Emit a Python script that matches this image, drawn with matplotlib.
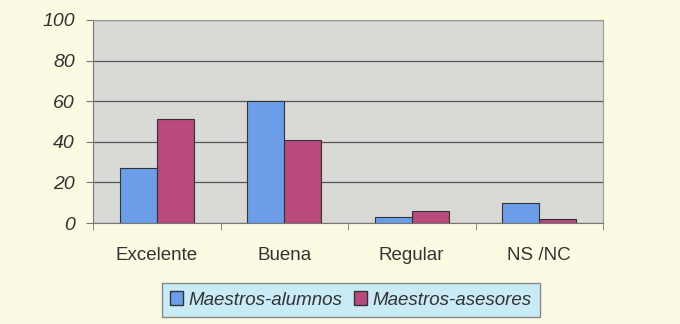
import numpy as np
import matplotlib.pyplot as plt
from matplotlib.patches import Patch

# Datos
categorias = ['Excelente', 'Buena', 'Regular', 'NS /NC']
alumnos = [27, 60, 3, 10]
asesores = [51, 41, 6, 2]
series = ['Maestros-alumnos', 'Maestros-asesores']
y_ticks = [0, 20, 40, 60, 80, 100]

azul = '#6b9de8'
rojo = '#b84a7c'
fondo = '#fbfbe3'
gris = '#d9d9d6'

plt.rcParams['font.family'] = ['Liberation Sans', 'DejaVu Sans']

fig = plt.figure(figsize=(6.8, 3.24), dpi=100, facecolor=fondo)
ax = fig.add_axes([93 / 680, 1 - 223 / 324, 510 / 680, 203 / 324])
ax.set_facecolor(gris)

x = np.arange(len(categorias))
w = 0.29
ax.bar(x - w / 2, alumnos, w, color=azul, edgecolor='#333333', linewidth=0.8, zorder=3)
ax.bar(x + w / 2, asesores, w, color=rojo, edgecolor='#333333', linewidth=0.8, zorder=3)

ax.set_xlim(-0.5, len(categorias) - 0.5)
ax.set_ylim(0, 100)
ax.set_yticks(y_ticks)
ax.set_yticklabels([str(v) for v in y_ticks], fontstyle='italic', fontsize=14, color='#333333')
ax.yaxis.grid(True, color='#555555', linewidth=0.9, zorder=1)

# Etiquetas y marcas del eje x
ax.set_xticks(x)
ax.set_xticklabels(categorias, fontsize=13.5, color='#333333')
ax.tick_params(axis='x', length=0, pad=17)
ax.set_xticks(np.arange(-0.5, len(categorias)), minor=True)
ax.tick_params(axis='x', which='minor', length=5, color='#777777', direction='out')
ax.tick_params(axis='y', length=5, color='#777777', pad=8)

for s in ['top', 'right']:
    ax.spines[s].set_color('#999999')
ax.spines['left'].set_color('#777777')
ax.spines['bottom'].set_color('#777777')

handles = [Patch(facecolor=azul, edgecolor='#333333', label=series[0]),
           Patch(facecolor=rojo, edgecolor='#333333', label=series[1])]
leg = fig.legend(handles=handles, loc='center', bbox_to_anchor=(351 / 680, 1 - 300 / 324),
                 ncol=2, frameon=True, fancybox=False, handlelength=0.7, handleheight=0.7,
                 handletextpad=0.3, columnspacing=0.6, borderpad=0.45,
                 prop={'style': 'italic', 'size': 13.5})
leg.get_frame().set_facecolor('#c8ebf6')
leg.get_frame().set_edgecolor('#888888')
leg.get_frame().set_alpha(1)
for t in leg.get_texts():
    t.set_color('#333333')

plt.savefig('out.png', dpi=100, facecolor=fondo)
